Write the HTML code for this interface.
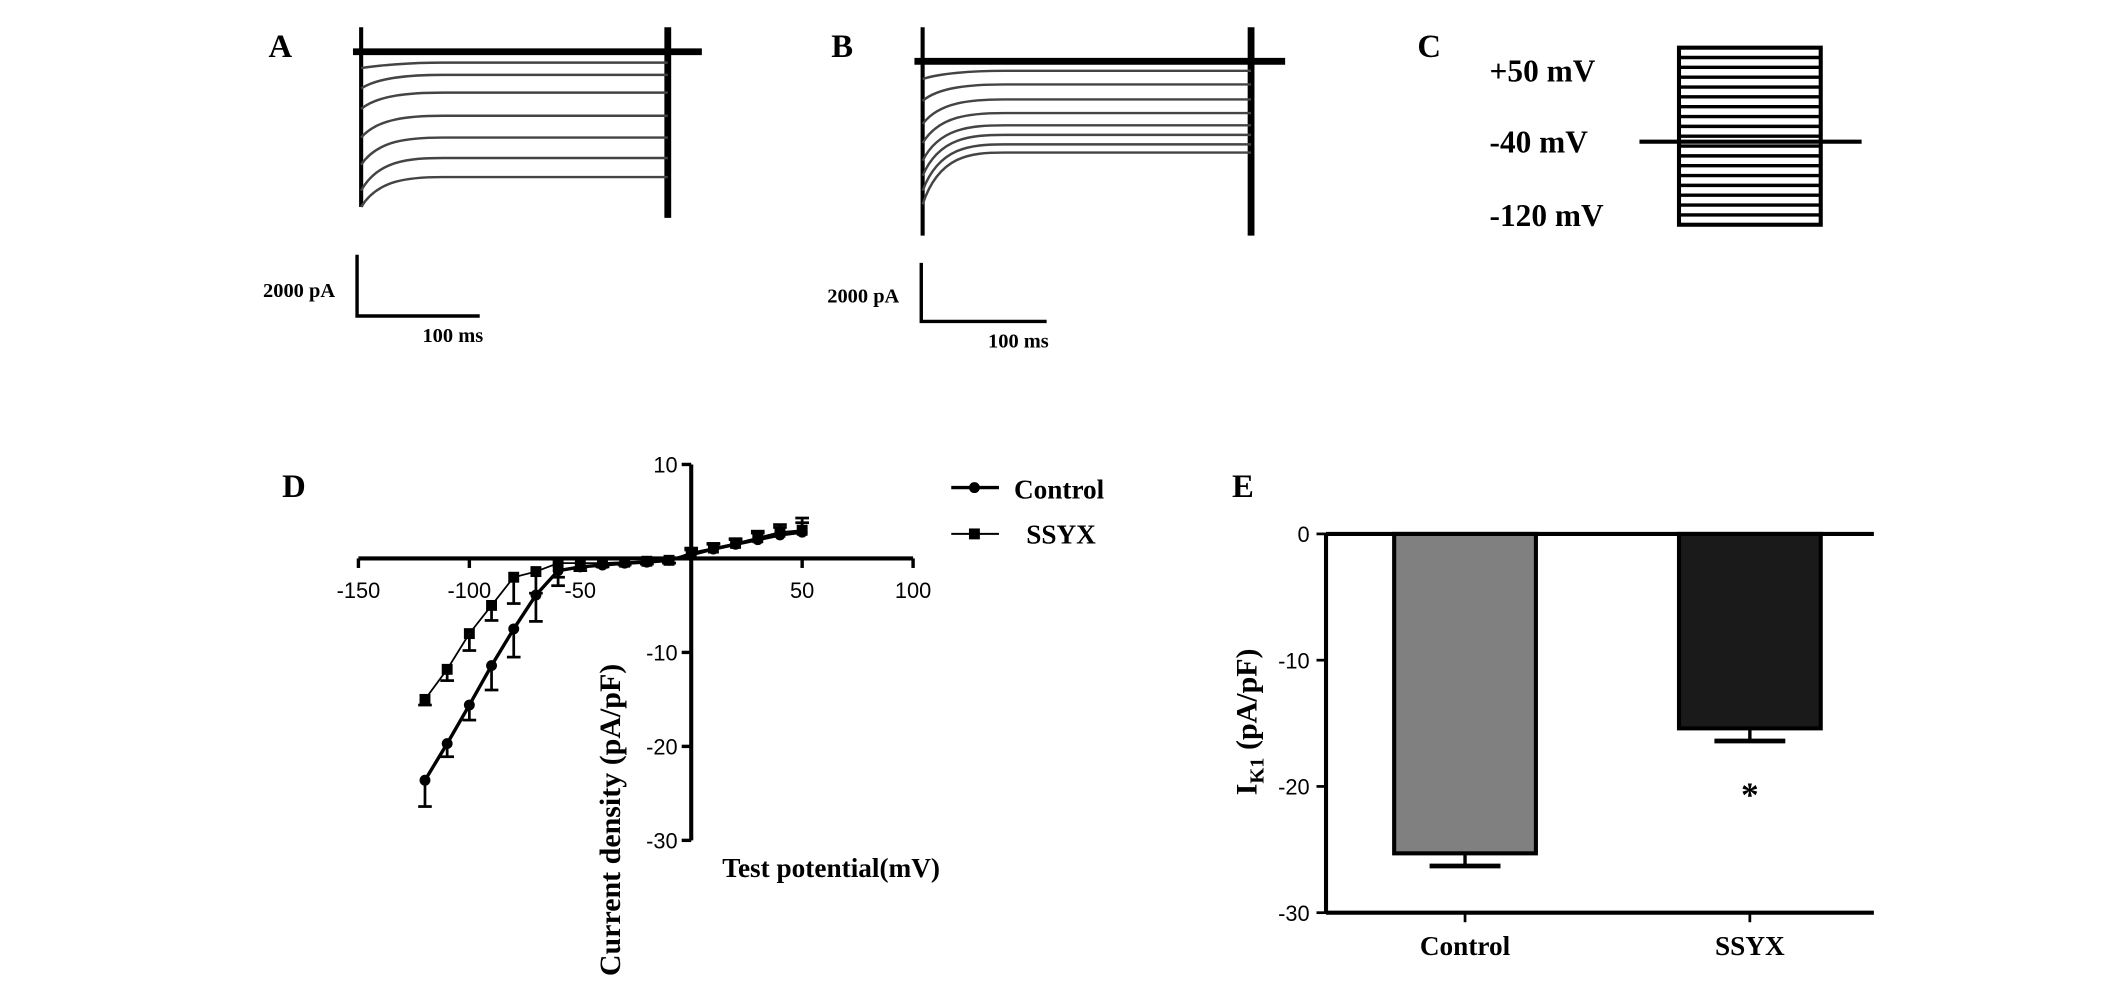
<!DOCTYPE html>
<html><head><meta charset="utf-8"><style>
html,body{margin:0;padding:0;background:#fff;}
svg{display:block;}
.ser{font-family:"Liberation Serif",serif;font-weight:bold;}
.sans{font-family:"Liberation Sans",sans-serif;}
</style></head><body>
<svg id="fig" width="2126" height="997" viewBox="0 0 1560 732" preserveAspectRatio="none">
<g id="pa"></g>
<g id="pb"></g>
<g id="pc"></g>
<g id="pd"></g>
<g id="pe"></g>
</svg>
<script>
// Panel D data
const voltages = [-120,-110,-100,-90,-80,-70,-60,-50,-40,-30,-20,-10,0,10,20,30,40,50];
const controlMean = [-23.6,-19.7,-15.6,-11.4,-7.5,-3.9,-1.3,-0.9,-0.7,-0.5,-0.4,-0.2,0.4,1.0,1.5,2.0,2.5,2.8];
const controlErr = [2.8,1.4,1.6,2.6,3.0,2.8,1.6,0.4,0.2,0.2,0.2,0.3,0.5,0.5,0.5,0.7,0.8,1.0];
const ssyxMean = [-15.0,-11.8,-8.0,-5.0,-2.0,-1.4,-0.5,-0.5,-0.5,-0.4,-0.3,-0.2,0.6,1.1,1.6,2.2,2.8,3.0];
const ssyxErr = [0.6,1.2,1.8,1.6,2.8,2.3,1.5,0.5,0.3,0.2,0.2,0.3,0.5,0.5,0.5,0.7,0.8,1.3];
const xTicks = [-150,-100,-50,50,100];
const yTicks = [10,-10,-20,-30];
// Panel E data
const barCats = ['Control','SSYX'];
const barMeans = [-25.3,-15.4];
const barErrs = [1.0,1.0];
const barTicks = [0,-10,-20,-30];

const NS='http://www.w3.org/2000/svg';
function mk(parent,tag,attrs,text){const e=document.createElementNS(NS,tag);for(const k in attrs)e.setAttribute(k,attrs[k]);if(text!==undefined)e.textContent=text;parent.appendChild(e);return e;}

function traces(g,x0,xr,topY,levels,startDrops,label,lx,sbx,sby1,sby2,sbx2,pat,msx,msy){
  let t=mk(g,'text',{x:lx,y:42,'font-size':24,class:'ser'},label);
  
  mk(g,'line',{x1:x0,y1:20,x2:x0,y2:topY[1],stroke:'#000','stroke-width':3});
  mk(g,'line',{x1:xr,y1:20,x2:xr,y2:topY[2],stroke:'#000','stroke-width':5});
  mk(g,'line',{x1:x0-6,y1:topY[0],x2:xr+25,y2:topY[0],stroke:'#000','stroke-width':5});
  levels.forEach((y,i)=>{const d=startDrops[i];
    mk(g,'path',{d:`M${x0},${y+d} C${x0+12},${y+2} ${x0+35},${y} ${x0+60},${y} L${xr},${y}`,fill:'none',stroke:'#444','stroke-width':1.8});});
  mk(g,'path',{d:`M${sbx},${sby1} L${sbx},${sby2} L${sbx2},${sby2}`,fill:'none',stroke:'#000','stroke-width':2.5});
  let a=mk(g,'text',{x:pat[0],y:pat[1],'font-size':15,class:'ser'},'2000 pA');
  
  let b=mk(g,'text',{x:msx,y:msy,'font-size':15,class:'ser'},'100 ms');
  
}
traces(document.getElementById('pa'),265,490,[38,152,160],[46,55,68,85,101,116,130],[4,10,12,16,20,24,22],'A',197,262,187,232,352,[193,218],310,251);
traces(document.getElementById('pb'),677,918,[45,173,173],[52,62,73,83,92,99,106,112],[6,12,18,22,26,30,34,38],'B',610,676,193,236,768,[607,222],725,255);

(function(){const g=document.getElementById('pc');
  let t=mk(g,'text',{x:1040,y:42,'font-size':24,class:'ser'},'C');
  mk(g,'rect',{x:1232,y:35,width:104,height:130,fill:'#fff',stroke:'#000','stroke-width':3});
  for(let i=1;i<18;i++){const y=35+i*130/18;mk(g,'line',{x1:1232,y1:y,x2:1336,y2:y,stroke:'#000','stroke-width':2.5});}
  mk(g,'line',{x1:1203,y1:104,x2:1366,y2:104,stroke:'#000','stroke-width':3});
  [['+50 mV',60],['-40 mV',112],['-120 mV',166]].forEach(([s,y])=>{let e=mk(g,'text',{x:1093,y:y,'font-size':23,class:'ser'},s);});
})();

(function(){const g=document.getElementById('pd');
  const X=v=>507.2+v*1.628, Y=v=>410-v*6.9;
  let t=mk(g,'text',{x:207,y:365,'font-size':24,class:'ser'},'D');
  mk(g,'line',{x1:X(-150),y1:Y(0),x2:X(100),y2:Y(0),stroke:'#000','stroke-width':3});
  mk(g,'line',{x1:X(0),y1:Y(10),x2:X(0),y2:Y(-30),stroke:'#000','stroke-width':3});
  xTicks.concat([0]).forEach(v=>mk(g,'line',{x1:X(v),y1:Y(0),x2:X(v),y2:Y(0)+7,stroke:'#000','stroke-width':2.5}));
  xTicks.forEach(v=>{let e=mk(g,'text',{x:X(v),y:Y(0)+29,'font-size':16,'text-anchor':'middle',class:'sans'},String(v));});
  yTicks.concat([0]).forEach(v=>mk(g,'line',{x1:X(0)-7,y1:Y(v),x2:X(0),y2:Y(v),stroke:'#000','stroke-width':2.5}));
  yTicks.forEach(v=>{let e=mk(g,'text',{x:X(0)-10,y:Y(v)+6,'font-size':16,'text-anchor':'end',class:'sans'},String(v));});
  function series(mean,err,w,marker,name){
    mk(g,'polyline',{points:voltages.map((v,i)=>X(v)+','+Y(mean[i])).join(' '),fill:'none',stroke:'#000','stroke-width':w});
    voltages.forEach((v,i)=>{const x=X(v),y=Y(mean[i]),dir=mean[i]<0?-1:1,ye=Y(mean[i]+dir*err[i]);
      mk(g,'line',{x1:x,y1:y,x2:x,y2:ye,stroke:'#000','stroke-width':2});
      mk(g,'line',{x1:x-5,y1:ye,x2:x+5,y2:ye,stroke:'#000','stroke-width':2});
      let m=marker==='c'?mk(g,'circle',{cx:x,cy:y,r:4,fill:'#000'}):mk(g,'rect',{x:x-4,y:y-4,width:8,height:8,fill:'#000'});
      });
  }
  series(ssyxMean,ssyxErr,1.3,'s','ssyx');
  series(controlMean,controlErr,2.5,'c','control');
  mk(g,'line',{x1:698,y1:358,x2:733,y2:358,stroke:'#000','stroke-width':2.5});mk(g,'circle',{cx:715,cy:358,r:4,fill:'#000'});
  let l1=mk(g,'text',{x:744,y:366,'font-size':20,class:'ser'},'Control');
  mk(g,'line',{x1:698,y1:392,x2:733,y2:392,stroke:'#000','stroke-width':1.5});mk(g,'rect',{x:711,y:388,width:8,height:8,fill:'#000'});
  let l2=mk(g,'text',{x:753,y:399,'font-size':20,class:'ser'},'SSYX');
  let xt=mk(g,'text',{x:530,y:644,'font-size':20,class:'ser'},'Test potential(mV)');
  let yt=mk(g,'text',{x:0,y:0,'font-size':22,'text-anchor':'middle',class:'ser',transform:'translate(455,602) rotate(-90)'},'Current density (pA/pF)');
})();

(function(){const g=document.getElementById('pe');
  const Y=v=>392-v*9.27, cx=[1075,1284], fills=['#808080','#1a1a1a'];
  let t=mk(g,'text',{x:904,y:365,'font-size':24,class:'ser'},'E');
  barMeans.forEach((m,i)=>{const x=cx[i];
    let r=mk(g,'rect',{x:x-52,y:Y(0),width:104,height:Y(m)-Y(0),fill:fills[i],stroke:'#000','stroke-width':3});
    
    const ye=Y(m-barErrs[i]);
    mk(g,'line',{x1:x,y1:Y(m),x2:x,y2:ye,stroke:'#000','stroke-width':2.5});
    mk(g,'line',{x1:x-26,y1:ye,x2:x+26,y2:ye,stroke:'#000','stroke-width':3.5});
    mk(g,'line',{x1:x,y1:Y(-30),x2:x,y2:Y(-30)+7,stroke:'#000','stroke-width':2});
    let c=mk(g,'text',{x:x,y:701,'font-size':20,'text-anchor':'middle',class:'ser'},barCats[i]);
  });
  mk(g,'line',{x1:973,y1:Y(0),x2:1375,y2:Y(0),stroke:'#000','stroke-width':3});
  mk(g,'line',{x1:973,y1:Y(-30),x2:1375,y2:Y(-30),stroke:'#000','stroke-width':3});
  mk(g,'line',{x1:973,y1:Y(0),x2:973,y2:Y(-30),stroke:'#000','stroke-width':3});
  barTicks.forEach(v=>{mk(g,'line',{x1:966,y1:Y(v),x2:973,y2:Y(v),stroke:'#000','stroke-width':2});
    let e=mk(g,'text',{x:961,y:Y(v)+6,'font-size':16,'text-anchor':'end',class:'sans'},String(v));});
  let s=mk(g,'text',{x:1284,y:592,'font-size':26,'text-anchor':'middle',class:'ser'},'*');
  let yt=mk(g,'text',{x:0,y:0,'font-size':22,'text-anchor':'middle',class:'ser',transform:'translate(922,530) rotate(-90)'});
  
  mk(yt,'tspan',{},'I');mk(yt,'tspan',{'font-size':15,dy:5},'K1');mk(yt,'tspan',{dy:-5},' (pA/pF)');
})();
</script>
</body></html>
